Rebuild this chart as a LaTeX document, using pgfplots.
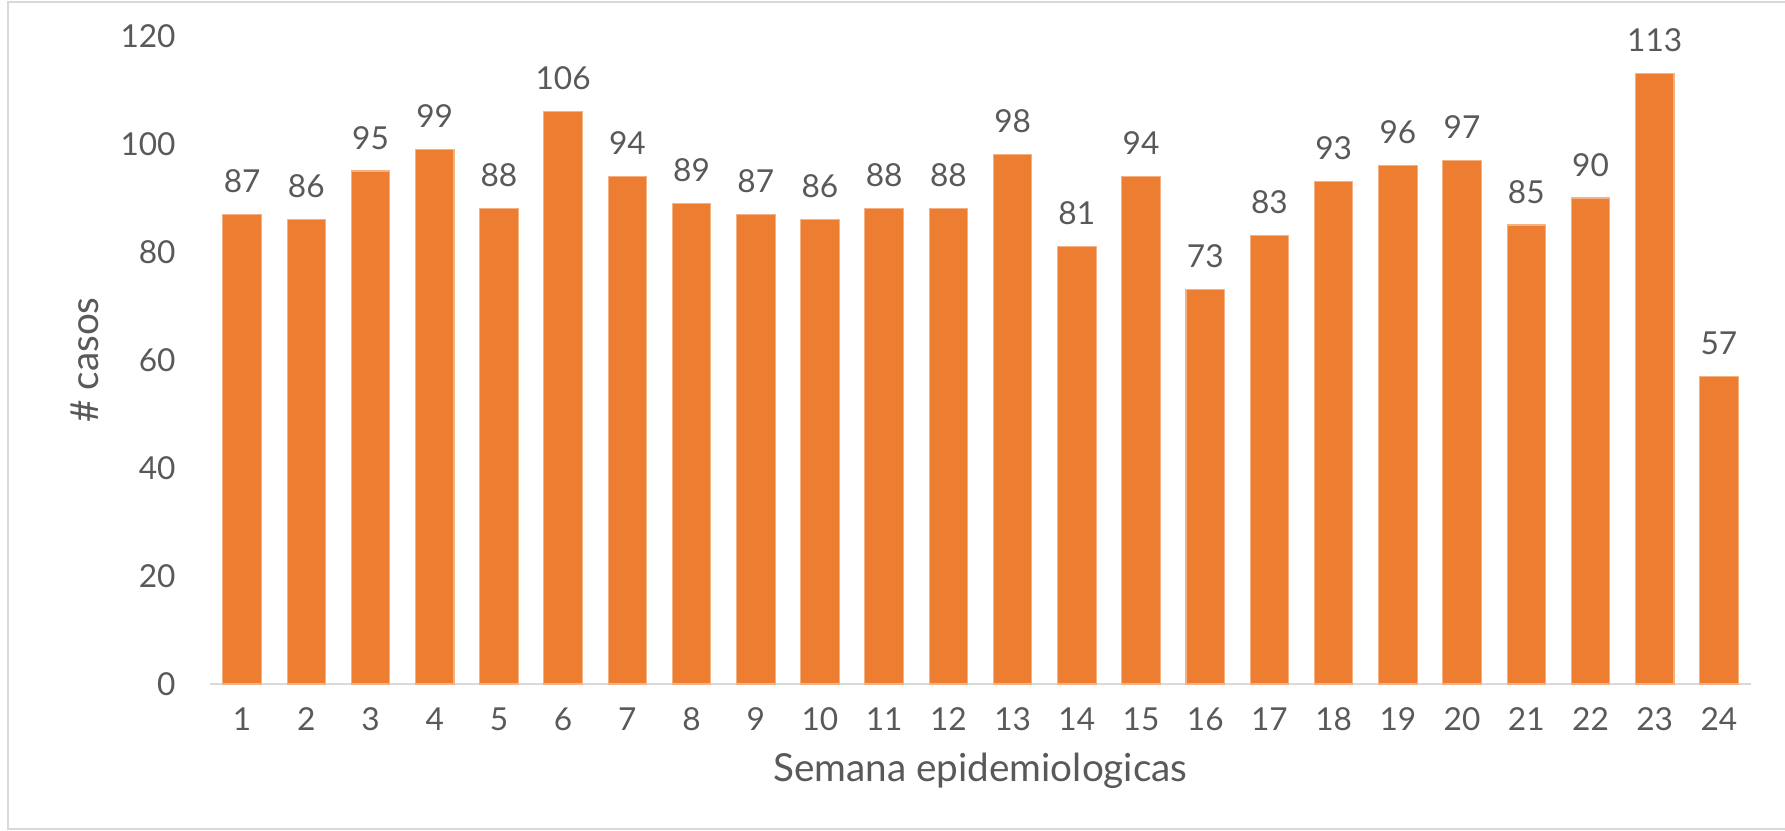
\documentclass[border=0pt]{standalone}
\usepackage{pgfplots}
\pgfplotsset{compat=1.18}
\usepackage{fontspec}
\setmainfont{Lato}
\definecolor{barc}{HTML}{ED7D31}
\definecolor{txt}{HTML}{595959}
\definecolor{grid}{HTML}{D9D9D9}
\begin{document}
\begin{tikzpicture}
\useasboundingbox (0,0) rectangle (178.5mm,83mm);
\draw[grid, line width=0.6pt] (179mm,82.8mm) -- (0.8mm,82.8mm) -- (0.8mm,0.1mm) -- (179mm,0.1mm);
\begin{axis}[
  at={(21mm,14.6mm)}, anchor=south west,
  scale only axis, width=154.1mm, height=64.8mm,
  ymin=0, ymax=120, xmin=0.5, xmax=24.5,
  ytick={0,20,...,120},
  xtick={1,...,24},
  /pgf/number format/assume math mode=true,
  axis x line*=bottom, axis y line*=left,
  x axis line style={grid, line width=0.6pt, -},
  y axis line style={draw=none},
  major tick length=0pt,
  tick label style={font=\fontsize{9}{10}\selectfont, text=txt},
  yticklabel style={anchor=east, xshift=-2.2mm},
  xticklabel style={anchor=center, yshift=-3.5mm},
  clip=false,
  xlabel={Semana epidemiologicas}, ylabel={\# casos},
  label style={font=\fontsize{11}{13}\selectfont, text=txt},
  xlabel style={at={(axis description cs:0.5,-0.134)}, anchor=center},
  ylabel style={at={(axis description cs:-0.081,0.5)}, anchor=center},
  nodes near coords,
  every node near coord/.append style={font=\fontsize{9}{10}\selectfont, text=txt, anchor=base, yshift=2.2mm},
]
\addplot[ybar, bar width=0.6, fill=barc, draw=barc!60!white, line width=0.3pt] coordinates {
(1,87) (2,86) (3,95) (4,99) (5,88) (6,106) (7,94) (8,89) (9,87) (10,86) (11,88) (12,88)
(13,98) (14,81) (15,94) (16,73) (17,83) (18,93) (19,96) (20,97) (21,85) (22,90) (23,113) (24,57)};
\end{axis}
\end{tikzpicture}
\end{document}
